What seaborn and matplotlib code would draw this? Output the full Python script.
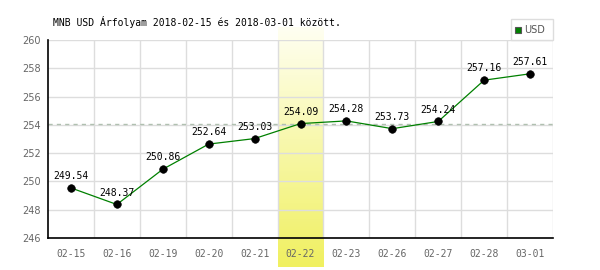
import numpy as np
import matplotlib
matplotlib.use("Agg")
import matplotlib.pyplot as plt
import seaborn as sns
import pandas as pd
from matplotlib.colors import LinearSegmentedColormap

dates = ["02-15", "02-16", "02-19", "02-20", "02-21", "02-22", "02-23", "02-26", "02-27", "02-28", "03-01"]
rates = [249.54, 248.37, 250.86, 252.64, 253.03, 254.09, 254.28, 253.73, 254.24, 257.16, 257.61]
y_ticks = [246, 248, 250, 252, 254, 256, 258, 260]
ref_level = 254.05
highlight = "02-22"
title = "MNB USD Árfolyam 2018-02-15 és 2018-03-01 között."
series_name = "USD"

sns.set_style("white")
plt.rcParams['font.family'] = ['DejaVu Sans Mono', 'DejaVu Sans']

df = pd.DataFrame({"date": dates, "rate": rates})
df["x"] = np.arange(len(dates))

fig = plt.figure(figsize=(6, 2.7), dpi=100)
ax = fig.add_axes([48/600, 1-238/270, (553-48)/600, (238-40)/270])

# highlight band with gradient
hi = dates.index(highlight)
cmap = LinearSegmentedColormap.from_list("yg", ["#fffff2", "#f0f060"])
grad = np.linspace(0, 1, 256).reshape(-1, 1)
scale = (238-40)/(260-246)
y_bottom = 246 - (267-238)/scale
y_top = 260 + (40-28)/scale
ax.imshow(grad, cmap=cmap, aspect="auto", extent=[hi-0.5, hi+0.5, y_bottom, y_top],
          origin="upper", clip_on=False, zorder=0)

# grid
for b in np.arange(-0.5, len(dates)+0.5, 1.0)[1:]:
    ax.axvline(b, color="#dddddd", lw=1, zorder=1)
for t in y_ticks:
    ax.axhline(t, color="#dddddd", lw=1, zorder=1)
ax.axhline(ref_level, color="#b0c0b0", lw=1, ls=(0, (3, 3)), zorder=2)

sns.lineplot(data=df, x="x", y="rate", ax=ax, color="#008000", lw=0.9, zorder=3, legend=False)
sns.scatterplot(data=df, x="x", y="rate", ax=ax, color="black", s=30, zorder=4, edgecolor="black", legend=False)
for xi, v in zip(df["x"], rates):
    ax.annotate(f"{v:.2f}", (xi, v), xytext=(0, 5), textcoords="offset points",
                ha="center", va="bottom", fontsize=7, color="black", zorder=5)

ax.set_xlim(-0.5, len(dates)-0.5)
ax.set_ylim(246, 260)
ax.set_xticks(df["x"])
ax.set_xticklabels(dates)
ax.set_yticks(y_ticks)
ax.tick_params(axis="both", labelsize=7, colors="#666666", length=0)
ax.tick_params(axis="x", pad=8)
ax.tick_params(axis="y", pad=5)
for lbl in ax.get_yticklabels():
    lbl.set_family(["DejaVu Sans"])
ax.set_xlabel("")
ax.set_ylabel("")
for s in ["top", "right"]:
    ax.spines[s].set_visible(False)
ax.spines["left"].set_color("black")
ax.spines["bottom"].set_color("black")
ax.spines["left"].set_linewidth(1.2)
ax.spines["bottom"].set_linewidth(1.2)
ax.patch.set_alpha(0)

fig.text(53/600, 1-22/270, title, fontsize=7, color="black", va="center", ha="left")

# legend box
lx0, ly0, lx1, ly1 = 511, 19, 553, 40
fig.patches.append(plt.Rectangle((lx0/600, 1-ly1/270), (lx1-lx0)/600, (ly1-ly0)/270,
                                 transform=fig.transFigure, fill=False, edgecolor="#dddddd", lw=1))
fig.patches.append(plt.Rectangle((515/600, 1-33/270), 6/600, 6/270, transform=fig.transFigure,
                                 facecolor="#008000", edgecolor="#555555", lw=0.8))
fig.text(524/600, 1-30/270, series_name, fontsize=7, color="#555555", va="center", ha="left",
         family=["DejaVu Sans", "DejaVu Sans Mono"])

fig.savefig("out.png", dpi=100)
